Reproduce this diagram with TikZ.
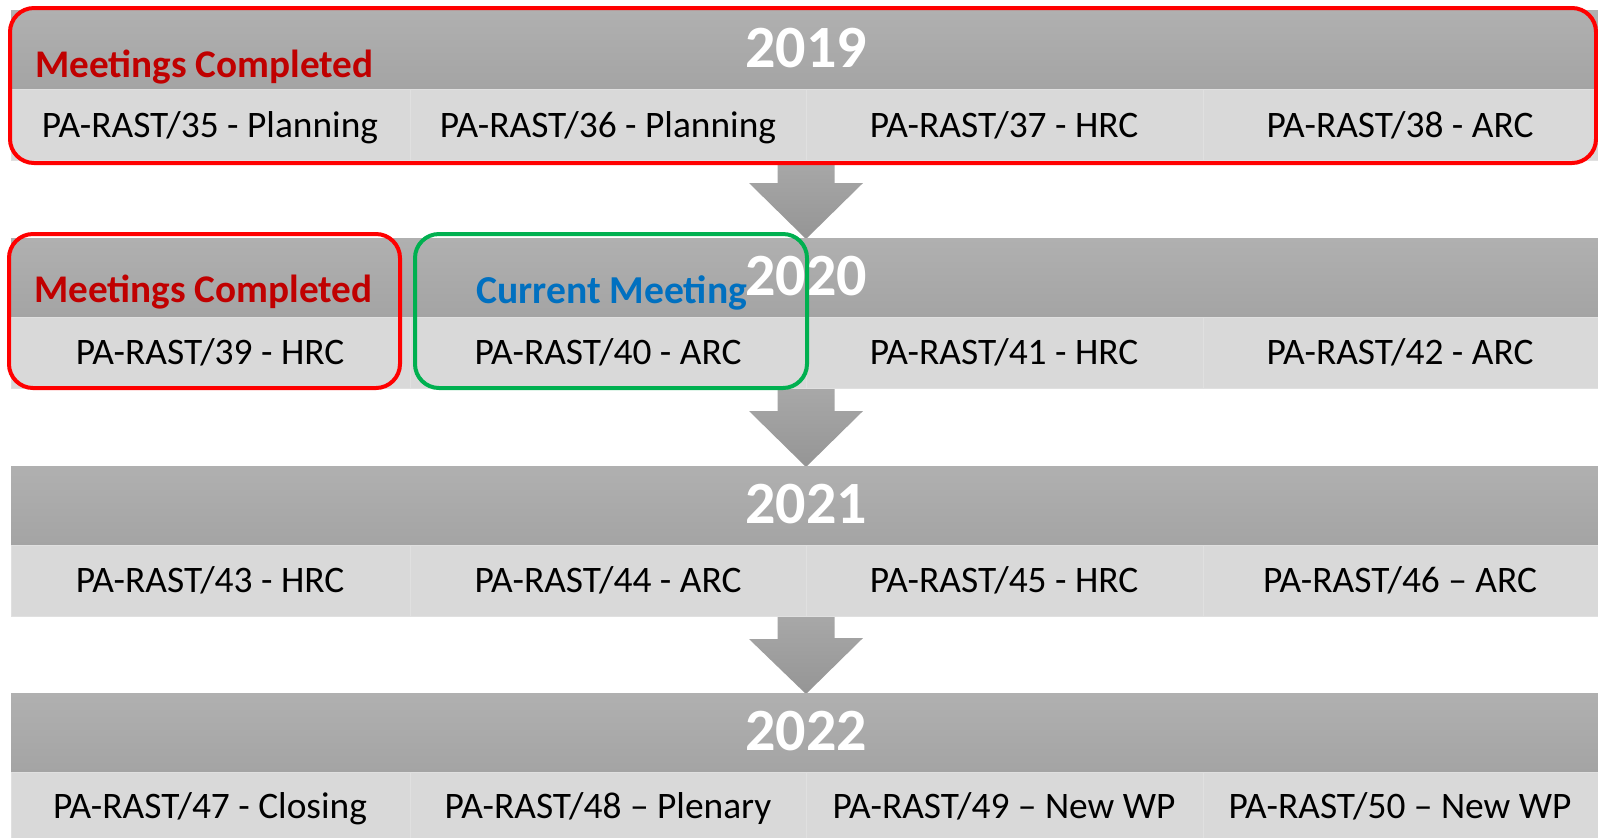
\documentclass[tikz,border=0pt]{standalone}
\usepackage{fontspec}
\setmainfont{Carlito}
\usetikzlibrary{positioning}

\definecolor{barTop}{HTML}{B0B0B0}
\definecolor{barBot}{HTML}{A4A4A4}
\definecolor{cellGray}{HTML}{D9D9D9}
\definecolor{cellLine}{HTML}{E0E0E0}
\definecolor{arrTop}{HTML}{A8A8A8}
\definecolor{arrBot}{HTML}{959595}
\definecolor{doneRed}{HTML}{FF0000}
\definecolor{doneText}{HTML}{C00000}
\definecolor{nowGreen}{HTML}{00B050}
\definecolor{nowText}{HTML}{0070C0}

\tikzset{
  yearbar/.style={top color=barTop, bottom color=barBot},
  cellbox/.style={fill=cellGray, draw=cellLine, line width=0.5pt},
  yeartext/.style={anchor=base, text=white, font=\bfseries\fontsize{30}{31}\selectfont},
  celltext/.style={anchor=base, font=\fontsize{18.7}{20}\selectfont},
  donetext/.style={anchor=base west, inner sep=0pt, text=doneText, font=\bfseries\fontsize{19.6}{21}\selectfont},
  nowtext/.style={anchor=base west, inner sep=0pt, text=nowText, font=\bfseries\fontsize{19.8}{21}\selectfont},
  donebox/.style={draw=doneRed, line width=2pt, rounded corners=12pt},
  nowbox/.style={draw=nowGreen, line width=2pt, rounded corners=12pt},
  downarrow/.style={top color=arrTop, bottom color=arrBot},
}

\begin{document}
\begin{tikzpicture}[x=0.5pt,y=-0.5pt]
 \useasboundingbox (0,0) rectangle (1598,837);
 \clip (0,0) rectangle (1598,837);

 % arrows between the years
 \foreach \top/\nxt [count=\i] in {10/238, 238/466, 466/693}{
   \coordinate (a\i) at (806,\top+150);
   \coordinate (t\i) at (806,\nxt+1);
   \shade[downarrow] (a\i) ++(-28.5,0) -- ++(0,23) -- ++(-28.5,0) -- (t\i)
     -- ++(57,-56) -- ++(-28.5,0) -- ++(0,-23) -- cycle;
 }

 % year bars and cells
 \foreach \yr/\top [count=\i] in {2019/10, 2020/238, 2021/466, 2022/693}{
   \shade[yearbar] (11,\top) rectangle (1600,\top+79);
   \foreach \xa/\xb [count=\j] in {11/410, 410/806, 806/1203, 1203/1600}
     \draw[cellbox] (\xa,\top+79) rectangle (\xb,\top+150);
   \node[yeartext] (yr\i) at (806,\top+57) {\yr};
 }

 % meetings
 \node[celltext] (m35) at (210,137) {PA-RAST/35 - Planning};
 \node[celltext] (m36) at (608,137) {PA-RAST/36 - Planning};
 \node[celltext] (m37) at (1004,137) {PA-RAST/37 - HRC};
 \node[celltext] (m38) at (1400,137) {PA-RAST/38 - ARC};
 \node[celltext] (m39) at (210,364) {PA-RAST/39 - HRC};
 \node[celltext] (m40) at (608,364) {PA-RAST/40 - ARC};
 \node[celltext] (m41) at (1004,364) {PA-RAST/41 - HRC};
 \node[celltext] (m42) at (1400,364) {PA-RAST/42 - ARC};
 \node[celltext] (m43) at (210,592) {PA-RAST/43 - HRC};
 \node[celltext] (m44) at (608,592) {PA-RAST/44 - ARC};
 \node[celltext] (m45) at (1004,592) {PA-RAST/45 - HRC};
 \node[celltext] (m46) at (1400,592) {PA-RAST/46 -- ARC};
 \node[celltext] (m47) at (210,818) {PA-RAST/47 - Closing};
 \node[celltext] (m48) at (608,818) {PA-RAST/48 -- Plenary};
 \node[celltext] (m49) at (1004,818) {PA-RAST/49 -- New WP};
 \node[celltext] (m50) at (1400,818) {PA-RAST/50 -- New WP};

 % status frames
 \draw[donebox] (10,8) rectangle (1596,163);
 \draw[donebox] (9,234) rectangle (400,388);
 \draw[nowbox] (415,234) rectangle (807,388);
 \node[donetext] (done1) at (35,77) {Meetings Completed};
 \node[donetext] (done2) at (34,302) {Meetings Completed};
 \node[nowtext] (now) at (476,303) {Current Meeting};
\end{tikzpicture}
\end{document}
